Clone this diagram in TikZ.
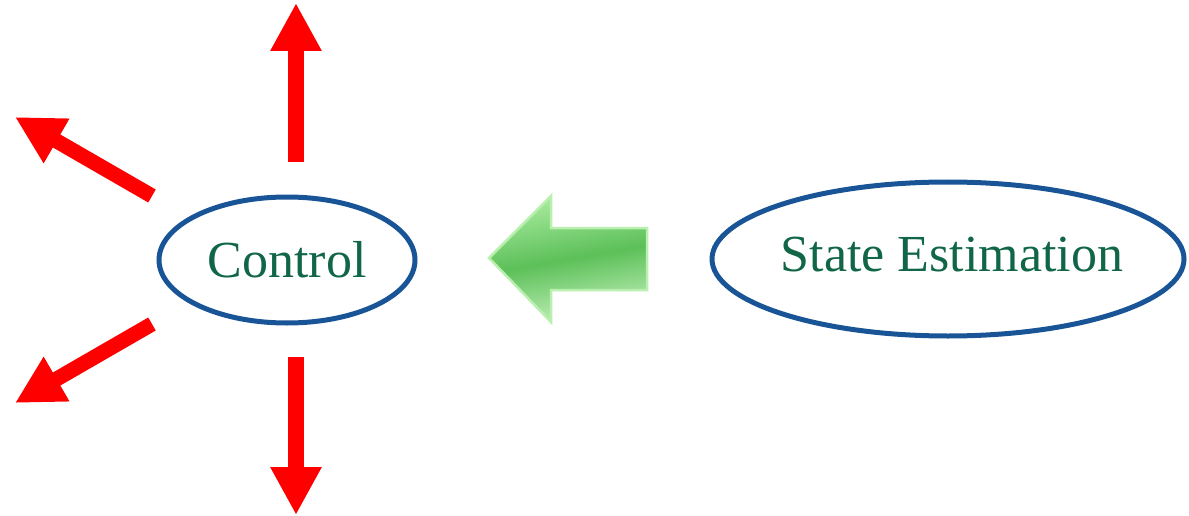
\documentclass[tikz,border=0pt]{standalone}
\usepackage{fontspec}
\setmainfont{Liberation Serif}
\usetikzlibrary{shapes.geometric,arrows.meta}
\definecolor{ringblue}{RGB}{24,84,150}
\definecolor{txtgreen}{RGB}{16,102,70}
\definecolor{arrred}{RGB}{255,0,0}
\definecolor{gdark}{RGB}{92,192,88}
\definecolor{glight}{RGB}{170,235,160}
\definecolor{gedge}{RGB}{185,240,175}
\tikzset{
  oval/.style={ellipse, draw=ringblue, line width=5pt, inner sep=0pt, text=txtgreen},
  redarrow/.style={draw=arrred, line width=16pt, line cap=butt,
    -{Triangle[length=48pt,width=48pt]}},
}
\begin{document}
\begin{tikzpicture}[x=1pt,y=-1pt]
\useasboundingbox (0,0) rectangle (1189,516);
\node[oval, minimum width=256pt, minimum height=126pt,
  font=\fontsize{52}{60}\selectfont] (ctrl) at (287,260) {Control};
\node[oval, minimum width=472pt, minimum height=154pt,
  label={[text=txtgreen, font=\fontsize{52}{60}\selectfont, xshift=4pt, yshift=4pt]center:State Estimation}]
  (se) at (948,259) {};
% red arrows
\coordinate (upS) at (296,162);   \coordinate (upT) at (296,3);
\coordinate (dnS) at (296,357);   \coordinate (dnT) at (296,515);
\coordinate (ulS) at (152,196);   \coordinate (ulT) at (15,117);
\coordinate (dlS) at (152,324);   \coordinate (dlT) at (15,403);
\draw[redarrow] (upS) -- (upT);
\draw[redarrow] (dnS) -- (dnT);
\draw[redarrow, line width=15pt] (ulS) -- (ulT);
\draw[redarrow, line width=15pt] (dlS) -- (dlT);
% green block arrow
\coordinate (gT) at (489,258);
\shade[top color=glight, bottom color=glight!70!white, middle color=gdark, shading angle=10]
  (gT) -- (551,196) -- (551,228) -- (647,228) -- (647,290) -- (551,290) -- (551,322) -- cycle;
\draw[gedge, line width=2.5pt, line join=miter]
  (gT) -- (551,196) -- (551,228) -- (647,228) -- (647,290) -- (551,290) -- (551,322) -- cycle;
\end{tikzpicture}
\end{document}
